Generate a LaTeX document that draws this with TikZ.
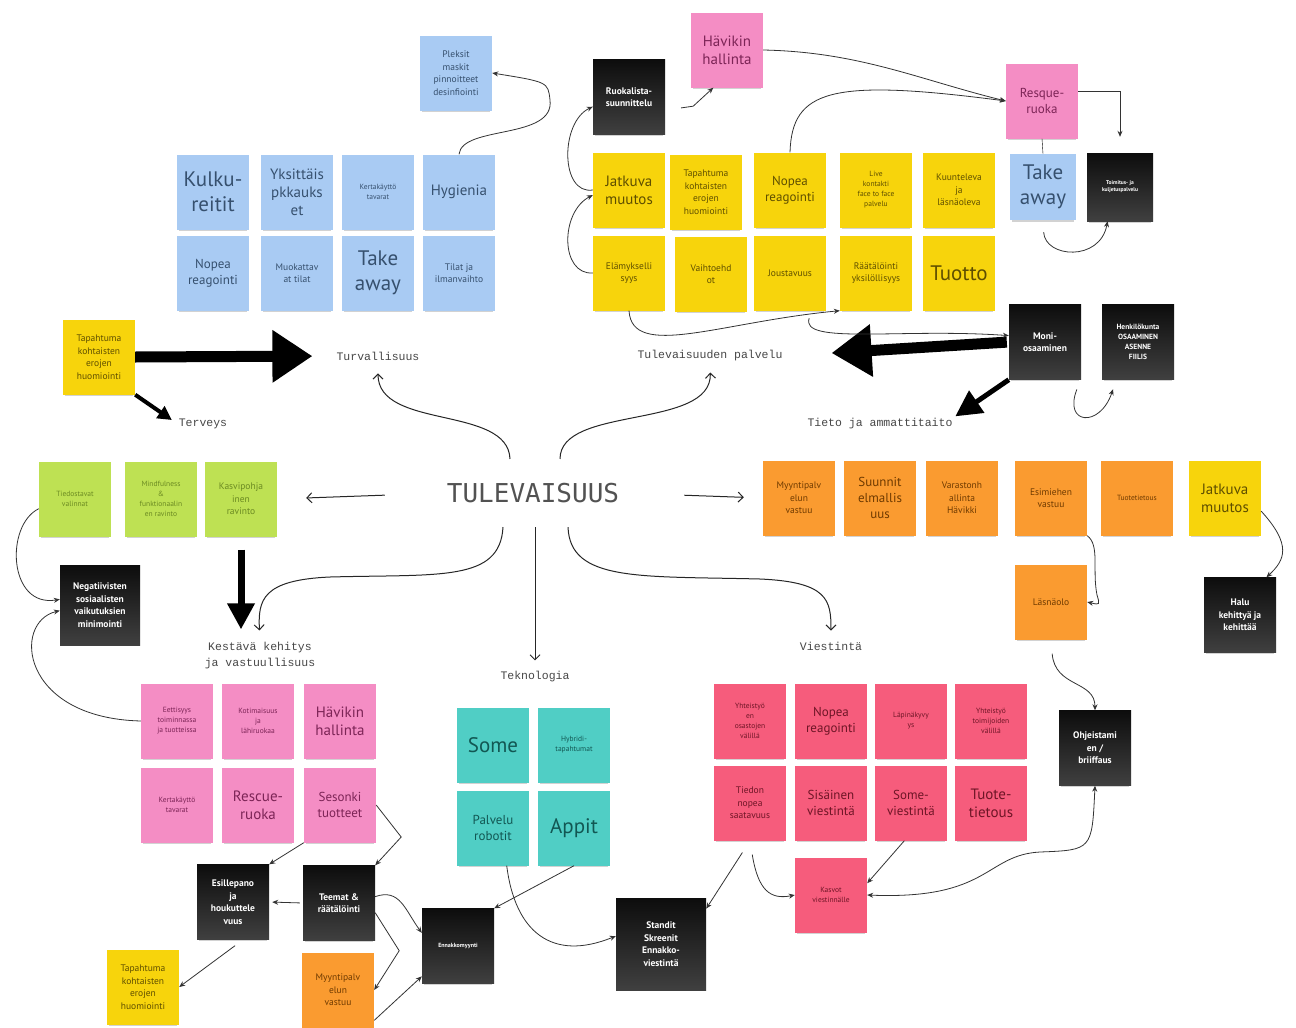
\documentclass[tikz,border=0pt]{standalone}
\usepackage{fontspec}
\setmainfont{PT Sans}
\newfontfamily\labelfont{Liberation Mono}
\newfontfamily\titlefont{DejaVu Sans Mono}
\usetikzlibrary{arrows.meta,shadows}

\definecolor{noteblue}{HTML}{A9CBF3}
\definecolor{noteblueT}{HTML}{36506E}
\definecolor{noteyellow}{HTML}{F7D40C}
\definecolor{noteyellowT}{HTML}{5E4E00}
\definecolor{notepink}{HTML}{F48DC4}
\definecolor{notepinkT}{HTML}{7C2456}
\definecolor{notered}{HTML}{F65C7C}
\definecolor{noteredT}{HTML}{6E1526}
\definecolor{noteorange}{HTML}{FA9B30}
\definecolor{noteorangeT}{HTML}{6E3A00}
\definecolor{notegreen}{HTML}{BEE153}
\definecolor{notegreenT}{HTML}{6B8A22}
\definecolor{noteteal}{HTML}{50CEC5}
\definecolor{notetealT}{HTML}{125753}

\tikzset{
  note/.style={minimum width=72pt, minimum height=75pt, inner sep=1pt, align=center,
    drop shadow={shadow xshift=0pt, shadow yshift=-3.5pt, shadow scale=.95, opacity=.35}},
  blue note/.style={note, fill=noteblue, text=noteblueT},
  yellow note/.style={note, fill=noteyellow, text=noteyellowT},
  pink note/.style={note, fill=notepink, text=notepinkT},
  red note/.style={note, fill=notered, text=noteredT},
  orange note/.style={note, fill=noteorange, text=noteorangeT},
  green note/.style={note, fill=notegreen, text=notegreenT},
  teal note/.style={note, fill=noteteal, text=notetealT},
  dark note/.style={note, top color=black!95, bottom color=black!75, text=white,
    execute at begin node=\bfseries},
  txtXL/.style={font=\fontsize{21}{25}\selectfont},
  txtL/.style={font=\fontsize{15}{18}\selectfont},
  txtM/.style={font=\fontsize{13}{16}\selectfont},
  txtS/.style={font=\fontsize{9.5}{12.5}\selectfont},
  txtXS/.style={font=\fontsize{7.5}{10}\selectfont},
  label/.style={font=\labelfont\fontsize{11.5}{16}\selectfont, text=black!72, inner sep=1pt, align=center},
  link/.style={draw=black!80, line width=.8pt, -{Stealth[length=6pt,width=5pt]}},
  both link/.style={draw=black!80, line width=.8pt, {Stealth[length=6pt,width=5pt]}-{Stealth[length=6pt,width=5pt]}},
  branch/.style={draw=black!85, line width=1pt, -{Straight Barb[length=5pt,width=10pt]}},
  big arrow/.style={line width=11pt, -{Triangle[length=40pt,width=50pt]}},
  mid arrow/.style={line width=7pt, -{Triangle[length=26pt,width=26pt]}},
  small arrow/.style={line width=4pt, -{Triangle[length=14pt,width=14pt]}},
}

\begin{document}
\begin{tikzpicture}[x=1pt,y=-1pt]
\useasboundingbox (0,0) rectangle (1296,1028);
\fill[white] (0,0) rectangle (1296,1028);

% centre and theme labels
\node[font=\titlefont\fontsize{26}{28}\selectfont, text=black!68, inner sep=2pt] (tulev) at (533,493) {TULEVAISUUS};
\node[label] (turv) at (378,356) {Turvallisuus};
\node[label] (tulpal) at (710,356) {Tulevaisuuden palvelu};
\node[label] (terveys) at (203,424) {Terveys};
\node[label] (tieto) at (880,424) {Tieto ja ammattitaito};
\node[label] (kestava) at (260,656) {Kestävä kehitys\\ja vastuullisuus};
\node[label] (tekno) at (535,677) {Teknologia};
\node[label] (viest) at (831,646) {Viestintä};

% turvallisuus
\node[blue note, txtS] (pleksit) at (456,73) {Pleksit\\maskit\\pinnoitteet\\desinfiointi};
\node[blue note, txtXL] (kulku) at (213,192) {Kulku-\\reitit};
\node[blue note, txtL] (yksit) at (297,192) {Yksittäis\\pkkauks\\et};
\node[blue note, txtXS] (kerta) at (378,192) {Kertakäyttö\\tavarat};
\node[blue note, txtL] (hygienia) at (459,192) {Hygienia};
\node[blue note, txtM] (nopeaT) at (213,273) {Nopea\\reagointi};
\node[blue note, txtS] (muokat) at (297,273) {Muokattav\\at tilat};
\node[blue note, txtXL] (takeT) at (378,273) {Take\\away};
\node[blue note, txtS] (tilat) at (459,273) {Tilat ja\\ilmanvaihto};

% tulevaisuuden palvelu
\node[dark note, txtS] (ruokal) at (629,97) {Ruokalista-\\suunnittelu};
\node[pink note, txtL] (havT) at (727,50) {Hävikin\\hallinta};
\node[yellow note, txtL] (jatkT) at (629,190) {Jatkuva\\muutos};
\node[yellow note, txtS] (tapT) at (706,192) {Tapahtuma\\kohtaisten\\erojen\\huomiointi};
\node[yellow note, txtM] (nopeaY) at (790,190) {Nopea\\reagointi};
\node[yellow note, txtXS] (live) at (876,190) {Live\\kontakti\\face to face\\palvelu};
\node[yellow note, txtS] (kuunt) at (959,190) {Kuunteleva\\ja\\läsnäoleva};
\node[yellow note, txtS] (elamys) at (629,273) {Elämykselli\\syys};
\node[yellow note, txtS] (vaiht) at (711,274) {Vaihtoehd\\ot};
\node[yellow note, txtS] (joust) at (790,273) {Joustavuus};
\node[yellow note, txtS] (raat) at (876,273) {Räätälöinti\\yksilöllisyys};
\node[yellow note, txtXL] (tuotto) at (959,273) {Tuotto};
\node[pink note, txtM] (resque) at (1042,101) {Resque-\\ruoka};
\node[blue note, txtXL, minimum width=66pt, minimum height=66pt] (takeR) at (1043,187) {Take\\away};
\node[dark note, font=\fontsize{5.5}{7}\selectfont, minimum width=66pt, minimum height=68pt] (toimitus) at (1120,187) {Toimitus- ja\\kuljetuspalvelu};
\node[dark note, txtS] (moni) at (1045,342) {Moni-\\osaaminen};
\node[dark note, txtXS] (henk) at (1138,342) {Henkilökunta\\OSAAMINEN\\ASENNE\\FIILIS};

% terveys
\node[yellow note, txtS] (tapL) at (99,357) {Tapahtuma\\kohtaisten\\erojen\\huomiointi};
\node[green note, txtXS] (tiedost) at (75,499) {Tiedostavat\\valinnat};
\node[green note, txtXS] (mindf) at (161,499) {Mindfulness\\\&\\funktionaalin\\en ravinto};
\node[green note, txtS] (kasvi) at (241,499) {Kasvipohja\\inen\\ravinto};
\node[dark note, txtS, minimum width=80pt, minimum height=80pt] (neg) at (100,605) {Negatiivisten\\sosiaalisten\\vaikutuksien\\minimointi};

% kestava kehitys
\node[pink note, txtXS] (eett) at (177,721) {Eettisyys\\toiminnassa\\ja tuotteissa};
\node[pink note, txtXS] (kotim) at (258,721) {Kotimaisuus\\ja\\lähiruokaa};
\node[pink note, txtL] (havB) at (340,721) {Hävikin\\hallinta};
\node[pink note, txtXS] (kertaP) at (177,805) {Kertakäyttö\\tavarat};
\node[pink note, txtL] (rescue) at (258,805) {Rescue-\\ruoka};
\node[pink note, txtM] (sesonki) at (340,805) {Sesonki\\tuotteet};
\node[dark note, txtS] (esille) at (233,902) {Esillepano\\ja\\houkuttele\\vuus};
\node[dark note, txtS] (teemat) at (339,903) {Teemat \&\\räätälöinti};
\node[orange note, txtS] (myyntiB) at (338,990) {Myyntipalv\\elun\\vastuu};
\node[yellow note, txtS] (tapB) at (143,987) {Tapahtuma\\kohtaisten\\erojen\\huomiointi};
\node[dark note, font=\fontsize{6}{8}\selectfont] (ennakko) at (458,946) {Ennakkomyynti};

% teknologia
\node[teal note, txtXL] (some) at (493,745) {Some};
\node[teal note, txtXS] (hybrid) at (574,745) {Hybridi-\\tapahtumat};
\node[teal note, txtM] (palvelu) at (493,828) {Palvelu\\robotit};
\node[teal note, txtXL] (appit) at (574,828) {Appit};
\node[dark note, txtS, minimum width=90pt, minimum height=92pt] (standit) at (661,944) {Standit\\Skreenit\\Ennakko-\\viestintä};

% viestinta
\node[red note, txtXS] (yht1) at (750,721) {Yhteistyö\\en\\osastojen\\välillä};
\node[red note, txtM] (nopeaR) at (831,721) {Nopea\\reagointi};
\node[red note, txtXS] (lapin) at (911,721) {Läpinäkyvy\\ys};
\node[red note, txtXS] (yht2) at (991,721) {Yhteistyö\\toimijoiden\\välillä};
\node[red note, txtS] (tiedon) at (750,803) {Tiedon\\nopea\\saatavuus};
\node[red note, txtM] (sisa) at (831,803) {Sisäinen\\viestintä};
\node[red note, txtM] (somev) at (911,803) {Some-\\viestintä};
\node[red note, txtL] (tuote) at (991,803) {Tuote-\\tietous};
\node[red note, txtXS] (kasvot) at (831,895) {Kasvot\\viestinnälle};
\node[dark note, txtS] (ohje) at (1095,748) {Ohjeistami\\en /\\briiffaus};

% tieto ja ammattitaito
\node[orange note, txtS] (myyntiO) at (799,498) {Myyntipalv\\elun\\vastuu};
\node[orange note, txtM] (suunn) at (880,498) {Suunnit\\elmallis\\uus};
\node[orange note, txtS] (varasto) at (962,498) {Varastonh\\allinta\\Hävikki};
\node[orange note, txtS] (esimies) at (1051,498) {Esimiehen\\vastuu};
\node[orange note, txtXS] (tuotet) at (1137,498) {Tuotetietous};
\node[yellow note, txtL] (jatkO) at (1225,498) {Jatkuva\\muutos};
\node[orange note, txtS] (lasna) at (1051,602) {Läsnäolo};
\node[dark note, txtS] (halu) at (1240,615) {Halu\\kehittyä ja\\kehittää};

% branches from the centre
\draw[branch, shorten <=60pt, shorten >=29pt] (tulev.west) -- (kasvi.east);
\draw[branch, shorten <=63pt, shorten >=19pt] (tulev.east) -- (myyntiO.west);
\draw[branch, shorten <=22pt, shorten >=10pt] ([xshift=2pt]tulev.south) -- (tekno.north);
\draw[branch, shorten >=12pt] ([shift={(-23pt,22pt)}]tulev.north) .. controls (508,405) and (378,430) .. (turv.south);
\draw[branch, shorten >=10pt] ([shift={(27pt,22pt)}]tulev.north) .. controls (560,405) and (712,430) .. (tulpal.south);
\draw[branch, shorten >=11pt] ([shift={(-30pt,-22pt)}]tulev.south) .. controls (500,582) and (440,574) .. (330,577) .. controls (262,580) and (258,600) .. (kestava.north);
\draw[branch, shorten >=10pt] ([shift={(35pt,-22pt)}]tulev.south) .. controls (570,582) and (640,576) .. (760,579) .. controls (828,582) and (831,600) .. (viest.north);

% thick arrows
\draw[big arrow, shorten >=23pt] (tapL.east) -- (turv.west);
\draw[big arrow, shorten <=2pt, shorten >=48pt] (moni.west) -- (tulpal.east);
\draw[small arrow, shorten >=7pt] (tapL.south east) -- (terveys.west);
\draw[mid arrow, line width=5pt, shorten >=2pt] (moni.south west) -- (tieto.north east);
\draw[mid arrow, shorten <=13pt, shorten >=12pt] (kasvi.south) -- (kasvi.south |- kestava.north);

% top connectors
\draw[link] (hygienia.north) .. controls (462,125) and (555,140) .. (550,100) .. controls (548,82) .. (pleksit.east);
\draw[link] (jatkT.west) .. controls (560,195) and (560,122) .. (ruokal.195);
\draw[link] (elamys.west) .. controls (560,275) and (560,212) .. (jatkT.188);
\draw[link, shorten <=16pt] (ruokal.-20) -- ++(28,-4) -- (havT.250);
\draw[link] (havT.east) .. controls (860,52) and (920,80) .. (resque.west);
\draw[link] (nopeaY.north) .. controls (792,90) and (830,78) .. (resque.west);
\draw[link, shorten >=16pt] (resque.15) -- (toimitus.north |- resque.15) -- (toimitus.north);
\draw (resque.south) -- (takeR.north);
\draw[link, shorten <=12pt] (takeR.south) .. controls (1045,258) and (1100,262) .. (toimitus.250);
\draw[link] (elamys.south) .. controls (632,360) and (720,322) .. (raat.south west);
\draw[link, shorten <=8pt] (joust.-60) .. controls (800,345) and (900,328) .. (moni.170);
\draw[link, shorten <=12pt, shorten >=10pt] (moni.-45) .. controls (1063,425) and (1100,428) .. (henk.-120);

% tieto connectors
\draw[link] (esimies.south east) .. controls (1100,545) and (1092,570) .. (1097,595) .. controls (1100,605) .. (lasna.east);
\draw[link] (jatkO.-20) .. controls (1292,545) and (1285,560) .. (halu.55);
\draw[link, shorten <=14pt] (lasna.south) .. controls (1055,688) and (1095,680) .. (ohje.north);

% terveys connectors
\draw[link] (tiedost.195) .. controls (5,525) and (8,608) .. (neg.172);
\draw[link] (eett.west) .. controls (20,718) and (12,622) .. (neg.188);

% kestava connectors
\draw[link] (sesonki.east) -- ++(25,32) -- (teemat.north east);
\draw[link] (sesonki.south west) -- (esille.north east);
\draw[link, shorten <=3pt, shorten >=3pt] (teemat.west) -- (esille.east);
\draw[link] (teemat.10) .. controls (400,888) and (405,910) .. (ennakko.160);
\draw[link] (teemat.-15) -- ++(24,38) -- (myyntiB.east);
\draw[link] (myyntiB.-40) -- (ennakko.-140);
\draw[link, shorten <=10pt] (esille.-75) -- (tapB.east);

% teknologia and viestinta connectors
\draw[link] (appit.south) -- (ennakko.north east);
\draw[link] (palvelu.-70) .. controls (515,932) and (552,962) .. (standit.170);
\draw[link, shorten <=14pt] (tiedon.south) -- (standit.38);
\draw[link, shorten <=14pt] (tiedon.south) .. controls (758,890) and (770,900) .. (kasvot.west);
\draw[link] (somev.-100) -- (kasvot.18);
\draw[both link] (kasvot.east) .. controls (990,900) and (985,855) .. (1040,852) .. controls (1092,850) .. (ohje.south);
\end{tikzpicture}
\end{document}
